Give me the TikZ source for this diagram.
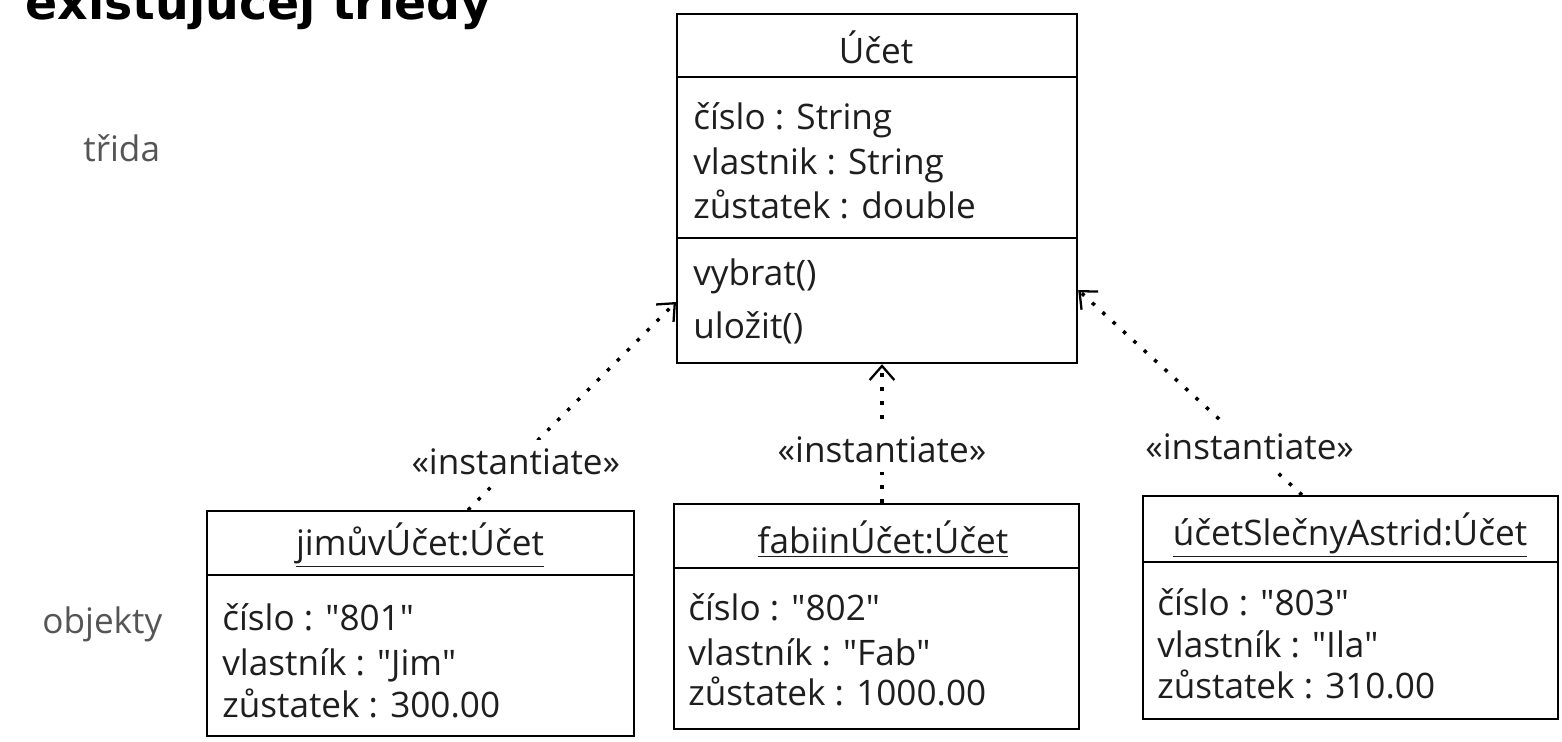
\documentclass[tikz,border=0pt]{standalone}
\usepackage{fontspec}
\setmainfont{Open Sans}
\newfontfamily\titlefont{DejaVu Sans}
\usetikzlibrary{arrows.meta,calc}
\definecolor{ink}{HTML}{1E1E1E}
\definecolor{side}{HTML}{555555}
\newcommand{\dq}{\XeTeXglyph\XeTeXcharglyph"22\relax}
\begin{document}
\begin{tikzpicture}[x=0.02cm,y=-0.02cm,
  box/.style={draw=black,line width=1.3pt,anchor=north west,inner sep=0pt},
  sep/.style={draw=black,line width=1.3pt},
  txt/.style={anchor=base west,inner sep=0pt,font=\fontsize{20}{24}\selectfont,text=ink},
  ttl/.style={anchor=base,inner sep=0pt,font=\fontsize{20}{24}\selectfont,text=ink},
  sidelbl/.style={anchor=base west,inner sep=0pt,font=\fontsize{20}{24}\selectfont,text=side},
  inst/.style={line width=2pt,dash pattern=on 2pt off 6pt,
    -{Straight Barb[length=8pt,width=14pt,line width=1.3pt]}},
  lbl/.style={fill=white,inner sep=5pt,font=\fontsize{20}{24}\selectfont,text=ink}]
\useasboundingbox[fill=white] (0,0) rectangle (1562,741);

% heading (cut at the top)
\node[anchor=base west,inner sep=0pt,font=\titlefont\bfseries\fontsize{27}{30}\selectfont] (title) at (25,19) {existujúcej triedy};

% side labels
\node[sidelbl] (trida) at (83,161) {třida};
\node[sidelbl] (objekty) at (42,633) {objekty};

% class box
\node[box,minimum width=8cm,minimum height=6.98cm] (cls) at (676,13) {};
\draw[sep] (676,77) -- (1076,77);
\draw[sep] (676,238) -- (1076,238);
\node[ttl] (clsname) at (876,63) {Účet};
\node[txt] (ca1) at (693,129) {číslo : String};
\node[txt] (ca2) at (693,174) {vlastnik : String};
\node[txt] (ca3) at (693,218) {zůstatek : double};
\node[txt] (cm1) at (693,285) {vybrat()};
\node[txt] (cm2) at (693,338) {uložit()};

% object 1
\node[box,minimum width=8.54cm,minimum height=4.5cm] (b1) at (206,510) {};
\draw[sep] (206,575) -- (633,575);
\node[ttl] (b1name) at (420,555) {\underline{jimůvÚčet:Účet}};
\node[txt] (b1a1) at (222,630) {číslo : \dq801\dq};
\node[txt] (b1a2) at (222,675) {vlastník : \dq Jim\dq};
\node[txt] (b1a3) at (222,717) {zůstatek : 300.00};

% object 2
\node[box,minimum width=8.1cm,minimum height=4.5cm] (b2) at (673,503) {};
\draw[sep] (673,568) -- (1078,568);
\node[ttl] (b2name) at (883,553) {\underline{fabiinÚčet:Účet}};
\node[txt] (b2a1) at (688,620) {číslo : \dq802\dq};
\node[txt] (b2a2) at (688,665) {vlastník : \dq Fab\dq};
\node[txt] (b2a3) at (688,705) {zůstatek : 1000.00};

% object 3
\node[box,minimum width=8.3cm,minimum height=4.46cm] (b3) at (1142,495) {};
\draw[sep] (1142,562) -- (1557,562);
\node[ttl] (b3name) at (1350,545) {\underline{účetSlečnyAstrid:Účet}};
\node[txt] (b3a1) at (1157,615) {číslo : \dq803\dq};
\node[txt] (b3a2) at (1157,657) {vlastník : \dq Ila\dq};
\node[txt] (b3a3) at (1157,698) {zůstatek : 310.00};

% instantiate dependencies
\draw[inst] ($(b1.north west)+(262,0)$) -- node[lbl,pos=0.23] (l1) {«instantiate»} ($(cls.north west)+(0,289)$);
\draw[inst] ($(b2.north west)+(209,0)$) -- node[lbl,pos=0.38] (l2) {«instantiate»} ($(cls.south west)+(206,0)$);
\draw[inst] ($(b3.north west)+(160,0)$) -- node[lbl,pos=0.234] (l3) {«instantiate»} ($(cls.north east)+(0,277)$);
\end{tikzpicture}
\end{document}
